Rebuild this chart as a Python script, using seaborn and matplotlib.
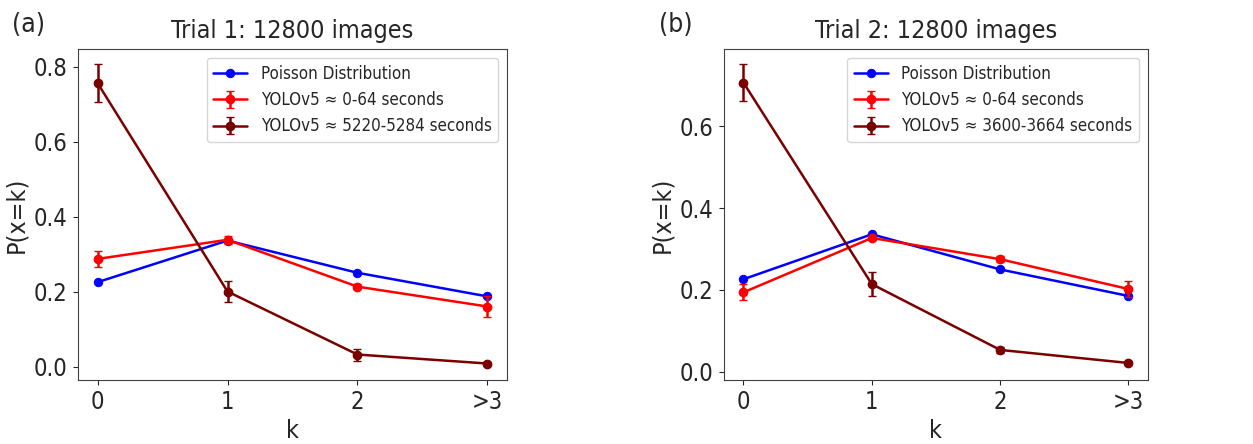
import seaborn as sns
import pandas as pd
from matplotlib import pyplot as plt

k_labels = ['0', '1', '2', '>3']

# Trial 1
poisson_1 = [0.225, 0.336, 0.250, 0.187]
early_1 = [0.287, 0.338, 0.213, 0.160]
early_err_1 = [0.022, 0.010, 0.006, 0.029]
late_1 = [0.756, 0.200, 0.032, 0.008]
late_err_1 = [0.050, 0.027, 0.016, 0.004]

# Trial 2
poisson_2 = [0.226, 0.336, 0.250, 0.185]
early_2 = [0.194, 0.327, 0.275, 0.202]
early_err_2 = [0.020, 0.006, 0.008, 0.020]
late_2 = [0.707, 0.214, 0.053, 0.021]
late_err_2 = [0.045, 0.029, 0.008, 0.005]

sns.set_style("ticks")
plt.rcParams['font.family'] = ['DejaVu Sans']
plt.rcParams['font.stretch'] = 'condensed'

fig = plt.figure(figsize=(12.53, 4.44), dpi=100)
ax_a = fig.add_axes([0.0623, 0.144, 0.3423, 0.745])
ax_b = fig.add_axes([0.578, 0.144, 0.338, 0.745])

panels = [
    (ax_a, '(a)', 'Trial 1: 12800 images', poisson_1, early_1, early_err_1,
     late_1, late_err_1, 'YOLOv5 \u2248 5220-5284 seconds'),
    (ax_b, '(b)', 'Trial 2: 12800 images', poisson_2, early_2, early_err_2,
     late_2, late_err_2, 'YOLOv5 \u2248 3600-3664 seconds'),
]

for ax, tag, title, pois, early, early_err, late, late_err, late_name in panels:
    df = pd.DataFrame({'k': k_labels, 'P': pois})
    sns.lineplot(data=df, x='k', y='P', ax=ax, color='blue', marker='o',
                 markersize=6, markeredgecolor='blue', linewidth=1.8,
                 label='Poisson Distribution', sort=False)
    ax.errorbar(k_labels, early, yerr=early_err, color='red', marker='o',
                markersize=6, linewidth=1.8, capsize=3,
                label='YOLOv5 \u2248 0-64 seconds')
    ax.errorbar(k_labels, late, yerr=late_err, color='#7a0000', marker='o',
                markersize=6, linewidth=1.8, capsize=3, label=late_name)
    ax.margins(x=0.05, y=0.05)
    ax.set_title(title, fontsize=18, pad=8)
    ax.set_xlabel('k', fontsize=18, labelpad=3)
    ax.set_ylabel('P(x=k)', fontsize=18, labelpad=4)
    ax.tick_params(labelsize=17, color='.15', pad=4)
    for s in ax.spines.values():
        s.set_color('.25')
    ax.legend(loc='upper right', fontsize=12.2)
    ax.text(-0.155, 1.035, tag, transform=ax.transAxes, fontsize=19,
            va='bottom', ha='left')

ax_a.set_yticks([0.0, 0.2, 0.4, 0.6, 0.8])
ax_b.set_yticks([0.0, 0.2, 0.4, 0.6])

fig.savefig('out.png', dpi=100)
